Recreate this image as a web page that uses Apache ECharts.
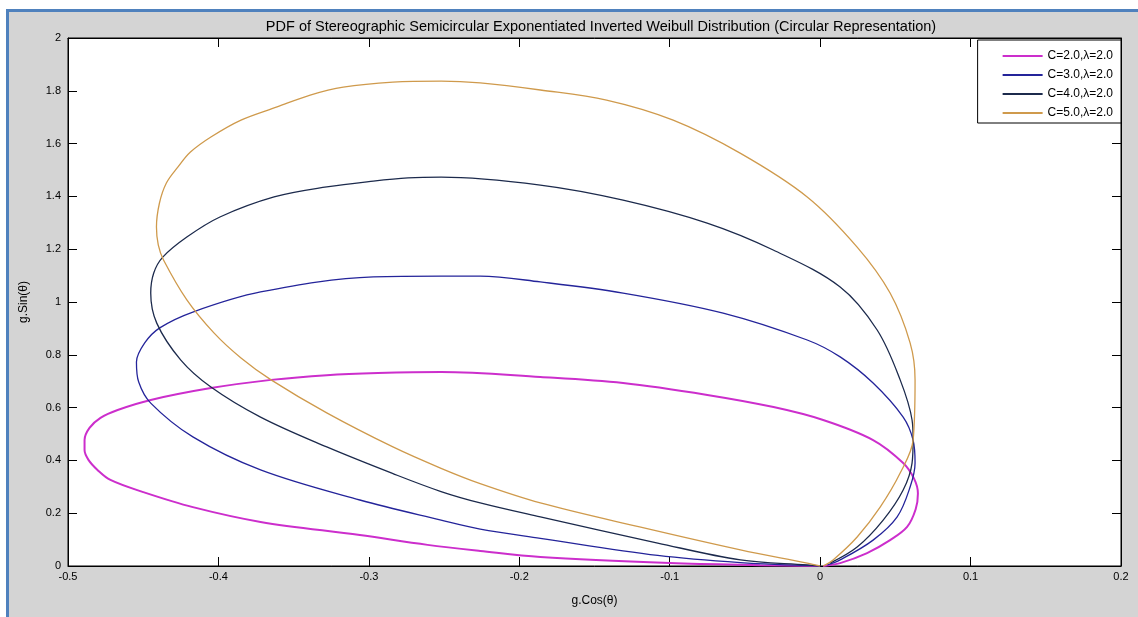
<!DOCTYPE html>
<html>
<head>
<meta charset="utf-8">
<script src="https://cdn.jsdelivr.net/npm/echarts@6/dist/echarts.min.js"></script>
<style>
  html, body { margin: 0; padding: 0; background: #ffffff; }
  #main {
    position: absolute; left: 6px; top: 9px;
    width: 1129px; height: 605px;
    border-left: 3px solid #4f81bd; border-top: 3px solid #4f81bd;
    background: #d4d4d4;
  }
</style>
</head>
<body>
<div id="main"></div>
<script>
// values: g.Cos(θ) and g.Sin(θ) for each curve
var seriesNames = ['C=2.0,λ=2.0', 'C=3.0,λ=2.0', 'C=4.0,λ=2.0', 'C=5.0,λ=2.0'];
var seriesColors = ['#cc2ecc', '#24249a', '#1c2a4c', '#cf9a4c'];

var c2X = [0.002, 0.0133, 0.0312, 0.0465, 0.0578, 0.0635, 0.0650, 0.0625, 0.0552, 0.0352, 0.002, -0.031, -0.075, -0.131, -0.186, -0.252, -0.294, -0.328, -0.365, -0.405, -0.445, -0.467, -0.4784, -0.4857, -0.489, -0.489, -0.4864, -0.4804, -0.4718, -0.450, -0.417, -0.372, -0.306, -0.261, -0.226, -0.186, -0.100, -0.04, 0];
var c2Y = [0, 0.011, 0.049, 0.098, 0.148, 0.215, 0.275, 0.330, 0.390, 0.477, 0.553, 0.602, 0.648, 0.693, 0.716, 0.735, 0.731, 0.723, 0.705, 0.674, 0.629, 0.591, 0.561, 0.523, 0.477, 0.439, 0.402, 0.364, 0.326, 0.280, 0.223, 0.167, 0.117, 0.080, 0.057, 0.034, 0.011, 0.003, 0];

var c3X = [0.0047, 0.0133, 0.0352, 0.0512, 0.0598, 0.0631, 0.0618, 0.0552, 0.0352, 0.0133, -0.0086, -0.0645, -0.131, -0.186, -0.226, -0.252, -0.297, -0.372, -0.417, -0.439, -0.449, -0.4545, -0.453, -0.445, -0.417, -0.372, -0.306, -0.252, -0.226, -0.186, -0.108, -0.053, 0];
var c3Y = [0.004, 0.023, 0.098, 0.186, 0.299, 0.390, 0.477, 0.564, 0.693, 0.792, 0.856, 0.958, 1.034, 1.076, 1.098, 1.098, 1.095, 1.038, 0.962, 0.902, 0.845, 0.773, 0.697, 0.617, 0.489, 0.364, 0.250, 0.174, 0.140, 0.105, 0.040, 0.013, 0];

var c4X = [0.0066, 0.0246, 0.0419, 0.0552, 0.0611, 0.0618, 0.0611, 0.0532, 0.0379, 0.0133, -0.0312, -0.0751, -0.131, -0.186, -0.252, -0.274, -0.297, -0.328, -0.363, -0.399, -0.421, -0.437, -0.443, -0.445, -0.441, -0.425, -0.405, -0.372, -0.328, -0.284, -0.252, -0.226, -0.186, -0.108, -0.053, -0.0086, 0];
var c4Y = [0.011, 0.072, 0.174, 0.288, 0.390, 0.477, 0.553, 0.705, 0.894, 1.057, 1.197, 1.299, 1.386, 1.443, 1.473, 1.470, 1.458, 1.436, 1.398, 1.322, 1.246, 1.170, 1.110, 1.034, 0.920, 0.780, 0.678, 0.564, 0.451, 0.350, 0.282, 0.239, 0.186, 0.087, 0.023, 0.004, 0];

var c5X = [0.002, 0.0086, 0.0246, 0.0399, 0.0532, 0.0618, 0.0631, 0.0598, 0.0465, 0.0246, -0.0086, -0.0532, -0.0977, -0.142, -0.186, -0.226, -0.252, -0.284, -0.317, -0.339, -0.361, -0.385, -0.405, -0.4186, -0.427, -0.4346, -0.4392, -0.4412, -0.440, -0.4365, -0.421, -0.403, -0.385, -0.365, -0.328, -0.284, -0.252, -0.226, -0.186, -0.120, -0.053, -0.0086, 0];
var c5Y = [0, 0.023, 0.110, 0.223, 0.352, 0.477, 0.705, 0.845, 1.034, 1.208, 1.398, 1.564, 1.689, 1.765, 1.803, 1.830, 1.837, 1.833, 1.814, 1.784, 1.739, 1.689, 1.625, 1.568, 1.511, 1.451, 1.375, 1.284, 1.216, 1.159, 1.008, 0.883, 0.788, 0.705, 0.580, 0.451, 0.370, 0.312, 0.239, 0.148, 0.061, 0.011, 0];

var curvesX = [c2X, c3X, c4X, c5X];
var curvesY = [c2Y, c3Y, c4Y, c5Y];
var lineWidths = [2, 1.3, 1.3, 1.3];

var font = 'Liberation Sans, Arial, sans-serif';

var dom = document.getElementById('main');
var myChart = echarts.init(dom);

var series = [];
var legendData = [];
for (var i = 0; i < seriesNames.length; i++) {
    var pts = [];
    for (var k = 0; k < curvesX[i].length; k++) {
        pts.push([curvesX[i][k], curvesY[i][k]]);
    }
    series.push({
        name: seriesNames[i],
        type: 'line',
        data: pts,
        symbol: 'none',
        smooth: 0.35,
        color: seriesColors[i],
        lineStyle: { width: lineWidths[i], color: seriesColors[i] }
    });
    legendData.push({ name: seriesNames[i], icon: 'rect' });
}

var tickStyle = { inside: true, length: 9, lineStyle: { color: '#000' } };
var lineStyle = { onZero: false, lineStyle: { color: '#000' } };

option = {
    animation: false,
    textStyle: { fontFamily: font },
    title: {
        text: 'PDF of Stereographic Semicircular Exponentiated Inverted Weibull Distribution (Circular Representation)',
        left: 587,
        top: 2,
        textAlign: 'center',
        textStyle: { fontSize: 14.5, fontWeight: 'normal', color: '#000', fontFamily: font }
    },
    legend: {
        data: legendData,
        orient: 'vertical',
        right: 17,
        top: 28,
        itemWidth: 40,
        itemHeight: 2,
        itemGap: 7,
        padding: [10, 8, 4, 25],
        backgroundColor: '#fff',
        borderColor: '#000',
        borderWidth: 1,
        textStyle: { fontSize: 12, color: '#000', fontFamily: font }
    },
    grid: {
        left: 59, right: 17, top: 26, bottom: 51,
        show: true, backgroundColor: '#fff', borderColor: '#000', borderWidth: 1
    },
    xAxis: [{
        type: 'value', min: -0.5, max: 0.2, interval: 0.1,
        name: 'g.Cos(θ)', nameLocation: 'middle', nameGap: 29,
        nameTextStyle: { fontSize: 12, color: '#000', fontFamily: font },
        axisLine: lineStyle,
        axisTick: tickStyle,
        axisLabel: { fontSize: 11, color: '#000', margin: 5 },
        splitLine: { show: false }
    }, {
        type: 'value', min: -0.5, max: 0.2, interval: 0.1, position: 'top',
        axisLine: lineStyle,
        axisTick: tickStyle,
        axisLabel: { show: false },
        splitLine: { show: false }
    }],
    yAxis: [{
        type: 'value', min: 0, max: 2, interval: 0.2,
        name: 'g.Sin(θ)', nameLocation: 'middle', nameGap: 38,
        nameTextStyle: { fontSize: 12, color: '#000', fontFamily: font },
        axisLine: lineStyle,
        axisTick: tickStyle,
        axisLabel: { fontSize: 11, color: '#000', margin: 7 },
        splitLine: { show: false }
    }, {
        type: 'value', min: 0, max: 2, interval: 0.2, position: 'right',
        axisLine: lineStyle,
        axisTick: tickStyle,
        axisLabel: { show: false },
        splitLine: { show: false }
    }],
    series: series
};

if (option && typeof option === "object") {
    myChart.setOption(option, true);
}
</script>
</body>
</html>
